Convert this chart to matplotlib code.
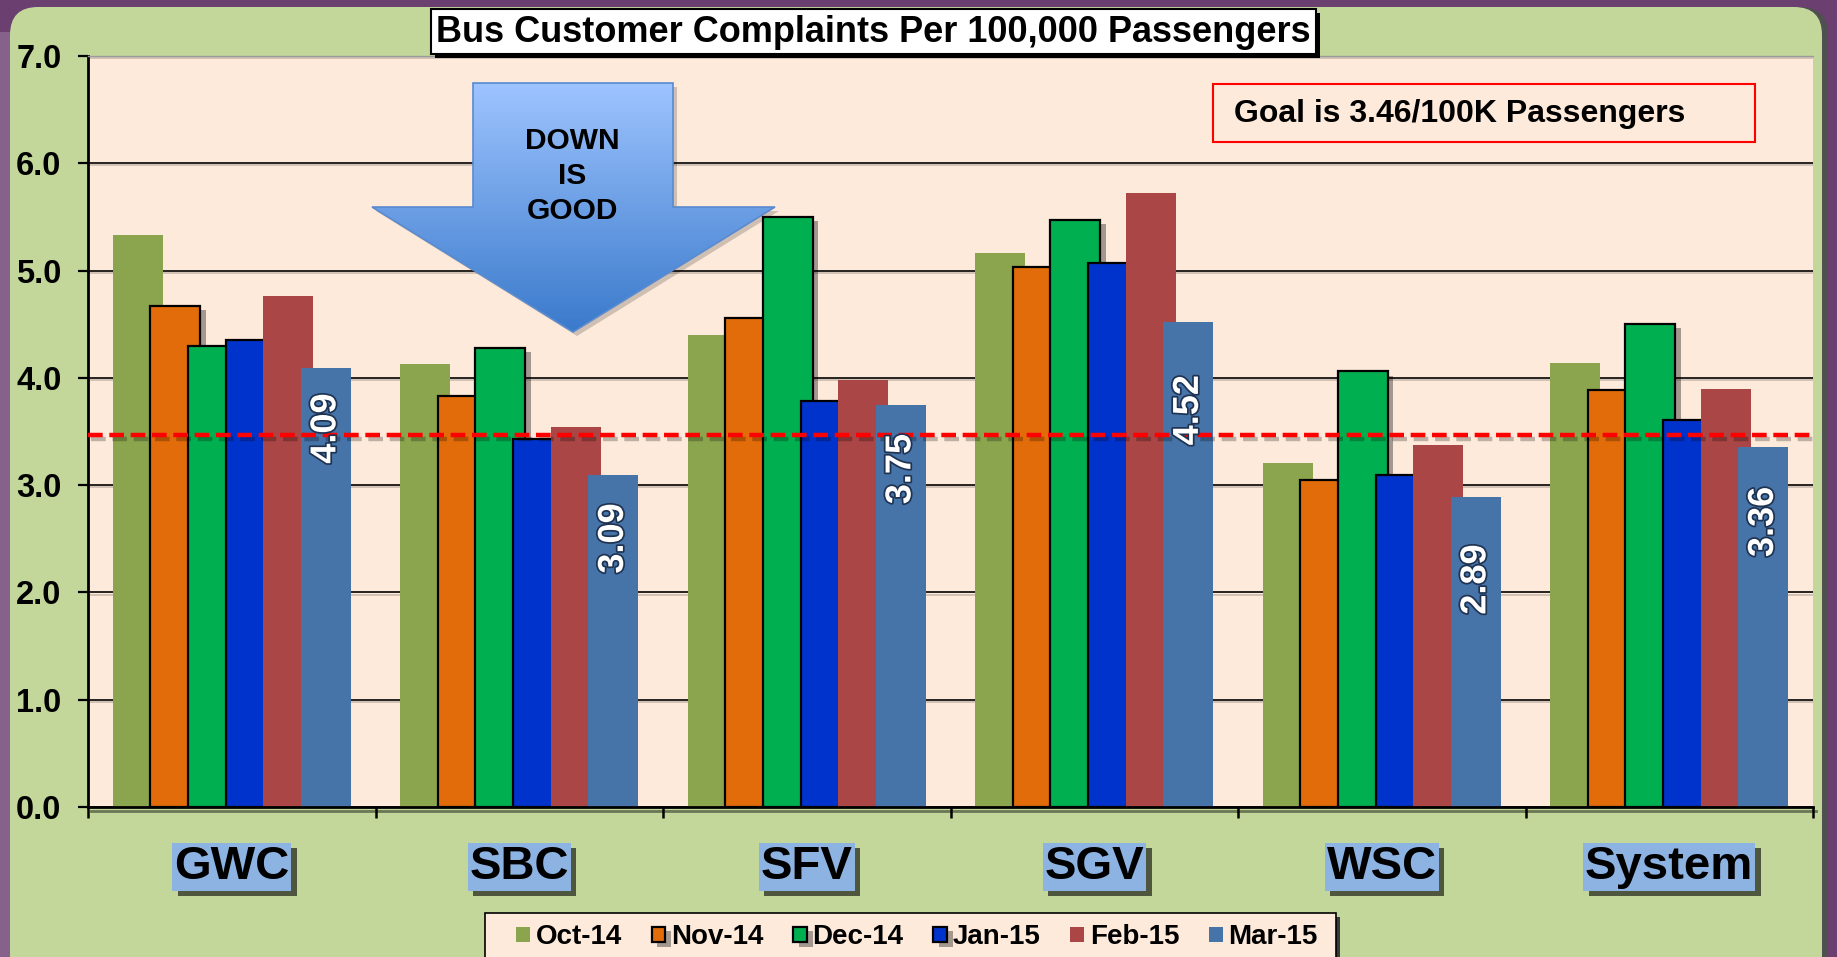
import numpy as np
import matplotlib
matplotlib.use("Agg")
import matplotlib.pyplot as plt
import matplotlib.transforms as mtransforms
import matplotlib.patheffects as pe
from matplotlib.patches import Rectangle, Polygon, FancyBboxPatch

plt.rcParams['font.family'] = ['Liberation Sans', 'DejaVu Sans']
plt.rcParams['font.weight'] = 'bold'

# ---------------- data ----------------
categories = ["GWC", "SBC", "SFV", "SGV", "WSC", "System"]
months = ["Oct-14", "Nov-14", "Dec-14", "Jan-15", "Feb-15", "Mar-15"]
oct14 = [5.33, 4.13, 4.40, 5.16, 3.21, 4.14]
nov14 = [4.67, 3.83, 4.56, 5.03, 3.05, 3.89]
dec14 = [4.30, 4.28, 5.50, 5.47, 4.06, 4.50]
jan15 = [4.35, 3.43, 3.78, 5.07, 3.09, 3.61]
feb15 = [4.76, 3.54, 3.98, 5.72, 3.37, 3.90]
mar15 = [4.09, 3.09, 3.75, 4.52, 2.89, 3.36]
goal = 3.47
yticks = [0, 1, 2, 3, 4, 5, 6, 7]

series = [oct14, nov14, dec14, jan15, feb15, mar15]
colors = ["#8BA54E", "#E36C0A", "#00B050", "#0033CC", "#AA4646", "#4673A8"]
edged = [False, True, True, True, False, False]
label_drop_pt = [18, 20, 21, 38, 34, 29]   # styling: label offset below bar top

W, H = 1837, 957
fig = plt.figure(figsize=(W / 100, H / 100), dpi=100)
fig.patch.set_facecolor("#6B3F70")
pix = mtransforms.Affine2D().scale(1 / W, -1 / H).translate(0, 1) + fig.transFigure

# background panels
fig.add_artist(Rectangle((0, 32), 10, H, transform=pix, facecolor="#85618B",
                         edgecolor="none", zorder=-3))
fig.add_artist(FancyBboxPatch((16, 7), 1812, 1000, boxstyle="round,pad=0,rounding_size=28",
                              transform=pix, facecolor="#505050", edgecolor="none", zorder=-2))
fig.add_artist(FancyBboxPatch((10, 7), 1812, 1000, boxstyle="round,pad=0,rounding_size=28",
                              transform=pix, facecolor="#C4D79B", edgecolor="none", zorder=-1))

# main axes
ax = fig.add_axes([88 / W, 1 - 807 / H, 1725 / W, 751 / H])
ax.set_facecolor("#FDEADA")

x = np.arange(len(categories))
width = 0.174
step = 0.131
containers = []
for i, (vals, col, ed, m) in enumerate(zip(series, colors, edged, months)):
    offs = (i - 2.5) * step
    if ed:
        bc = ax.bar(x + offs, vals, width, color=col, edgecolor="black", linewidth=1.6,
                    label=m, zorder=2)
        for b in bc:
            b.set_path_effects([pe.SimplePatchShadow(offset=(4, -3), shadow_rgbFace="black",
                                                     alpha=0.35), pe.Normal()])
    else:
        bc = ax.bar(x + offs, vals, width, color=col, edgecolor="none", label=m, zorder=2)
    containers.append(bc)

# value labels on last series
offs = 2.5 * step
for xi, v, d in zip(x, mar15, label_drop_pt):
    t = ax.annotate(f"{v:.2f}", xy=(xi + offs, v), xytext=(0, -d), textcoords="offset points",
                    rotation=90, ha="center", va="top", color="white", fontsize=26,
                    fontweight="bold", zorder=6)
    t.set_path_effects([pe.withStroke(linewidth=2.5, foreground="#1E3352")])

# goal line
gl = ax.axhline(goal, color="#FF0000", lw=3.2, dashes=(3.3, 1.5), zorder=4)
gl.set_path_effects([pe.SimpleLineShadow(offset=(2, -3), shadow_color="black", alpha=0.25),
                     pe.Normal()])

# gradient arrow "DOWN IS GOOD"
arrow_pts = [(473, 83), (673, 83), (673, 207), (775, 207), (573, 332), (372, 207), (473, 207)]
shadow = Polygon([(px + 4, py + 4) for px, py in arrow_pts], closed=True, transform=pix,
                 facecolor="black", alpha=0.18, edgecolor="none", zorder=1.4)
ax.add_patch(shadow)
arrow = Polygon(arrow_pts, closed=True, transform=pix, facecolor="none",
                edgecolor="#5A8AD0", lw=1.2, zorder=1.7)
ax.add_patch(arrow)
top_c = np.array([0x9E, 0xC4, 0xFF]) / 255
bot_c = np.array([0x3A, 0x7A, 0xCB]) / 255
tt = np.linspace(0, 1, 256)[:, None]
grad = (top_c[None, :] * (1 - tt) + bot_c[None, :] * tt)[:, None, :]
im = ax.imshow(grad, extent=(372, 775, 332, 83), transform=pix, aspect="auto",
               interpolation="bilinear", zorder=1.6)
im.set_clip_path(arrow)
ax.text(572, 176, "DOWN\nIS\nGOOD", transform=pix, ha="center", va="center",
        fontsize=21.5, fontweight="bold", linespacing=1.33, zorder=1.8)

ax.set_xlim(-0.5, 5.5)
ax.set_ylim(0, 7)

# axes styling
ax.set_yticks(yticks)
ax.set_yticklabels([f"{v:.1f}" for v in yticks])
ax.yaxis.grid(True, color="black", lw=1.2, zorder=1)
for gline in ax.get_ygridlines():
    gline.set_path_effects([pe.SimpleLineShadow(offset=(1, -1.5), alpha=0.2), pe.Normal()])
ax.set_axisbelow(True)
ax.tick_params(axis="y", length=7, width=1.6, direction="out", labelsize=23.5, pad=12)
ax.set_xticks(x)
ax.set_xticklabels([])
ax.tick_params(axis="x", which="major", length=0)
ax.set_xticks(np.arange(-0.5, 6, 1), minor=True)
ax.tick_params(axis="x", which="minor", length=8, width=1.8, direction="out")
for s in ["left", "bottom"]:
    ax.spines[s].set_linewidth(2)
    ax.spines[s].set_color("black")
ax.spines["bottom"].set_path_effects([pe.SimpleLineShadow(offset=(2, -3), alpha=0.45),
                                      pe.Normal()])
ax.spines["top"].set_color("#9A9A9A")
ax.spines["top"].set_linewidth(1)
ax.spines["right"].set_visible(False)

# category labels with blue boxes
for xi, c in zip(x, categories):
    t = ax.annotate(c, xy=(xi, 0), xycoords=ax.get_xaxis_transform(), xytext=(0, -43),
                    textcoords="offset points", ha="center", va="center", fontsize=34,
                    fontweight="bold", color="black", zorder=5, annotation_clip=False,
                    bbox=dict(boxstyle="square,pad=0.04", facecolor="#8DB3E2", edgecolor="none"))
    t.get_bbox_patch().set_path_effects([pe.SimplePatchShadow(offset=(4, -4),
                                                              shadow_rgbFace="black",
                                                              alpha=0.6), pe.Normal()])

# title box
fig.add_artist(Rectangle((435, 13), 885, 45, transform=pix, facecolor="black",
                         edgecolor="none", zorder=5))
fig.add_artist(Rectangle((431, 9), 885, 45, transform=pix, facecolor="white",
                         edgecolor="black", lw=1.5, zorder=6))
fig.text(873 / W, 1 - 32 / H, "Bus Customer Complaints Per 100,000 Passengers",
         ha="center", va="center", fontsize=26, fontweight="bold", zorder=7)

# goal box
fig.add_artist(Rectangle((1213, 84), 542, 58, transform=pix, facecolor="none",
                         edgecolor="#FF0000", lw=1.5, zorder=6))
fig.text(1234 / W, 1 - 114 / H, "Goal is 3.46/100K Passengers", ha="left", va="center",
         fontsize=23, fontweight="bold", zorder=7)

# legend frame (drawn manually) and legend entries
fig.add_artist(Rectangle((489, 917), 851, 70, transform=pix, facecolor="#3A3A3A",
                         edgecolor="none", zorder=7))
fig.add_artist(Rectangle((485, 913), 851, 70, transform=pix, facecolor="#FDEADA",
                         edgecolor="black", lw=1.2, zorder=7.5))
leg = fig.legend(handles=containers, labels=months, loc="upper center",
                 bbox_to_anchor=(917 / W, 1 - 916 / H), ncol=6, fontsize=20,
                 handlelength=0.5, handleheight=0.5, handletextpad=0.2, columnspacing=1.07,
                 borderpad=0.3, borderaxespad=0, frameon=False)
leg.set_zorder(8)

fig.savefig("out.png", dpi=100, facecolor=fig.get_facecolor())
